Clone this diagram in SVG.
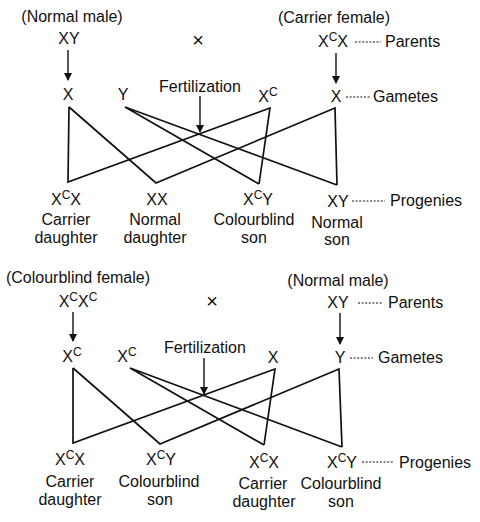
<svg xmlns="http://www.w3.org/2000/svg" width="480" height="522" viewBox="0 0 480 522">
<defs>
<marker id="ah" markerWidth="8" markerHeight="10" refX="7" refY="4" orient="auto" markerUnits="userSpaceOnUse">
<path d="M0,0 L8,4 L0,8 Z" fill="#111"/>
</marker>
<style>
text{font-family:"Liberation Sans",Arial,sans-serif;font-size:16px;fill:#111}
.m{text-anchor:middle}
.sup{font-size:12px}
.x{font-size:20px}
.ln{stroke:#111;stroke-width:1.7;fill:none;stroke-linejoin:miter}
.ar{stroke:#111;stroke-width:1.4;fill:none}
.dt{stroke:#111;stroke-width:1.2;stroke-dasharray:2 1.6}
</style>
</defs>
<rect width="480" height="522" fill="#fff"/>

<!-- Cross 1 -->
<g id="p1-male"><text class="m" x="72" y="22">(Normal male)</text><text class="m" x="69" y="44">XY</text></g>
<g id="p1-cross"><text class="m x" x="198" y="47">×</text></g>
<g id="p1-female"><text class="m" x="334" y="23">(Carrier female)</text><text class="m" x="333" y="47">X<tspan class="sup" dy="-6">C</tspan><tspan dy="6">X</tspan></text></g>
<g id="p1-parents"><text x="385" y="47">Parents</text></g>
<g id="g1-x"><text class="m" x="68" y="100">X</text></g>
<g id="g1-y"><text class="m" x="123" y="100">Y</text></g>
<g id="g1-fert"><text class="m" x="200" y="92">Fertilization</text></g>
<g id="g1-xc"><text class="m" x="268" y="102">X<tspan class="sup" dy="-6">C</tspan></text></g>
<g id="g1-x2"><text class="m" x="336" y="102">X</text></g>
<g id="g1-gametes"><text x="373" y="102">Gametes</text></g>
<g id="c1-a"><text class="m" x="66" y="205">X<tspan class="sup" dy="-6">C</tspan><tspan dy="6">X</tspan></text><text class="m" x="66" y="225">Carrier</text><text class="m" x="66" y="243">daughter</text></g>
<g id="c1-b"><text class="m" x="157" y="205">XX</text><text class="m" x="155" y="225">Normal</text><text class="m" x="155" y="243">daughter</text></g>
<g id="c1-c"><text class="m" x="258" y="205">X<tspan class="sup" dy="-6">C</tspan><tspan dy="6">Y</tspan></text><text class="m" x="254" y="225">Colourblind</text><text class="m" x="254" y="243">son</text></g>
<g id="c1-d"><text class="m" x="338" y="207">XY</text><text class="m" x="337" y="228">Normal</text><text class="m" x="337" y="245">son</text></g>
<g id="c1-prog"><text x="390" y="206">Progenies</text></g>

<!-- Cross 2 -->
<g id="p2-female"><text class="m" x="78" y="283">(Colourblind female)</text><text class="m" x="78" y="307">X<tspan class="sup" dy="-6">C</tspan><tspan dy="6">X</tspan><tspan class="sup" dy="-6">C</tspan></text></g>
<g id="p2-cross"><text class="m x" x="212" y="308">×</text></g>
<g id="p2-male"><text class="m" x="338" y="286">(Normal male)</text><text class="m" x="338" y="308">XY</text></g>
<g id="p2-parents"><text x="388" y="308">Parents</text></g>
<g id="g2-xc"><text class="m" x="72" y="362">X<tspan class="sup" dy="-6">C</tspan></text></g>
<g id="g2-xc2"><text class="m" x="127" y="362">X<tspan class="sup" dy="-6">C</tspan></text></g>
<g id="g2-fert"><text class="m" x="205" y="353">Fertilization</text></g>
<g id="g2-x"><text class="m" x="273" y="363">X</text></g>
<g id="g2-y"><text class="m" x="340" y="363">Y</text></g>
<g id="g2-gametes"><text x="378" y="363">Gametes</text></g>
<g id="c2-a"><text class="m" x="70" y="465">X<tspan class="sup" dy="-6">C</tspan><tspan dy="6">X</tspan></text><text class="m" x="70" y="487">Carrier</text><text class="m" x="70" y="505">daughter</text></g>
<g id="c2-b"><text class="m" x="161" y="465">X<tspan class="sup" dy="-6">C</tspan><tspan dy="6">Y</tspan></text><text class="m" x="159" y="487">Colourblind</text><text class="m" x="160" y="505">son</text></g>
<g id="c2-c"><text class="m" x="264" y="468">X<tspan class="sup" dy="-6">C</tspan><tspan dy="6">X</tspan></text><text class="m" x="263" y="489">Carrier</text><text class="m" x="264" y="507">daughter</text></g>
<g id="c2-d"><text class="m" x="342" y="468">X<tspan class="sup" dy="-6">C</tspan><tspan dy="6">Y</tspan></text><text class="m" x="341" y="489">Colourblind</text><text class="m" x="341" y="507">son</text></g>
<g id="c2-prog"><text x="399" y="468">Progenies</text></g>

<g id="connectors">
<!-- arrows cross 1 -->
<line class="ar" x1="68" y1="50" x2="68" y2="80" marker-end="url(#ah)"/>
<line class="ar" x1="336" y1="53" x2="336" y2="83" marker-end="url(#ah)"/>
<line class="ar" x1="200" y1="96" x2="200" y2="132" marker-end="url(#ah)"/>
<!-- dotted leaders cross 1 -->
<line class="dt" x1="355" y1="42" x2="381" y2="42"/>
<line class="dt" x1="346" y1="97" x2="370" y2="97"/>
<line class="dt" x1="352" y1="201" x2="385" y2="201"/>
<!-- cross lines 1 -->
<polyline class="ln" points="69,107 68,182 270,108 259,184"/>
<polyline class="ln" points="69,107 156,183 335,108 337,185"/>
<polyline class="ln" points="259,184 125,107 337,185"/>

<!-- arrows cross 2 -->
<line class="ar" x1="73" y1="312" x2="73" y2="341" marker-end="url(#ah)"/>
<line class="ar" x1="340" y1="313" x2="340" y2="344" marker-end="url(#ah)"/>
<line class="ar" x1="204" y1="358" x2="204" y2="394" marker-end="url(#ah)"/>
<!-- dotted leaders cross 2 -->
<line class="dt" x1="358" y1="303" x2="382" y2="303"/>
<line class="dt" x1="350" y1="358" x2="373" y2="358"/>
<line class="dt" x1="362" y1="462" x2="394" y2="462"/>
<!-- cross lines 2 -->
<polyline class="ln" points="73,368 73,443 275,369 264,445"/>
<polyline class="ln" points="73,368 160,444 339,369 342,447"/>
<polyline class="ln" points="264,445 130,368 342,447"/>
</g>
</svg>
